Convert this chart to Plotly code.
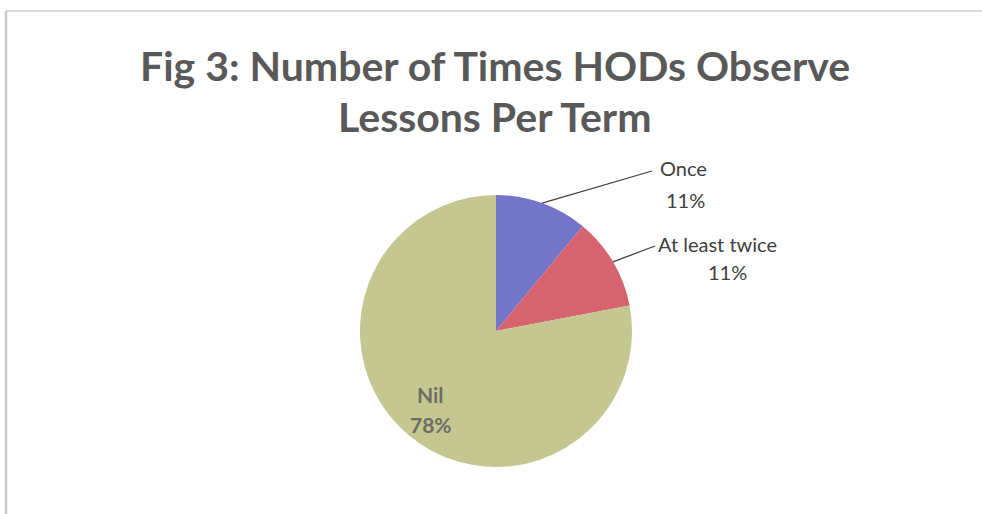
import math
import plotly.graph_objects as go

# Survey results: how often HODs observe lessons each term
categories = ["Once", "At least twice", "Nil"]
shares = [11, 11, 78]
colors = ["#7474C9", "#D6646E", "#C4C78F"]

W, H = 982, 514
CX, CY, R = 496, 331, 136          # pie centre and radius in pixels

fig = go.Figure(go.Pie(
    labels=categories,
    values=shares,
    sort=False,
    direction="clockwise",
    rotation=0,
    marker=dict(colors=colors, line=dict(width=0)),
    textinfo="none",
    hoverinfo="label+percent",
    domain=dict(x=[(CX - R) / W, (CX + R) / W],
                y=[1 - (CY + R) / H, 1 - (CY - R) / H]),
    showlegend=False,
))


def px_to_paper(x, y):
    return x / W, 1 - y / H


def slice_point(idx, frac):
    """Point at radius fraction `frac` along the middle angle of slice idx."""
    total = sum(shares)
    start = sum(shares[:idx]) / total
    mid = (start + shares[idx] / total / 2) * 2 * math.pi
    return CX + frac * R * math.sin(mid), CY - frac * R * math.cos(mid)


def text_at(px, py, text, font):
    x, y = px_to_paper(px, py)
    return dict(x=x, y=y, xref="paper", yref="paper", showarrow=False,
                xanchor="center", yanchor="middle", text=text, font=font)


label_font = dict(family="Lato", size=20, color="#404040")
shapes = []
annotations = []

# outside labels with leader lines for the two small slices
label_anchor = [(652, 171), (655, 246)]
name_pos = [(683, 168), (717, 244)]
pct_pos = [(685, 200), (727, 272)]
for i in range(2):
    sx, sy = slice_point(i, 1.0)
    ex, ey = label_anchor[i]
    x0, y0 = px_to_paper(sx, sy)
    x1, y1 = px_to_paper(ex, ey)
    shapes.append(dict(type="line", xref="paper", yref="paper",
                       x0=x0, y0=y0, x1=x1, y1=y1,
                       line=dict(color="#404040", width=1.3)))
    annotations.append(text_at(*name_pos[i], categories[i], label_font))
    annotations.append(text_at(*pct_pos[i], f"{shares[i]}%", label_font))

# inside label for the large slice
nx, ny = slice_point(2, 0.75)
nil_font = dict(family="Lato", size=21, color="#6E6E64")
annotations.append(text_at(nx, ny - 15, f"<b>{categories[2]}</b>", nil_font))
annotations.append(text_at(nx, ny + 15, f"<b>{shares[2]}%</b>", nil_font))

# chart title
title_font = dict(family="Lato", size=41, color="#595959")
annotations.append(text_at(495, 65, "<b>Fig 3: Number of Times HODs Observe</b>", title_font))
annotations.append(text_at(495, 117, "<b>Lessons Per Term</b>", title_font))

# thin frame along the top and left edges
shapes.append(dict(type="line", xref="paper", yref="paper",
                   x0=6 / W, y0=1 - 11 / H, x1=1, y1=1 - 11 / H,
                   line=dict(color="#DCDCE0", width=2)))
shapes.append(dict(type="line", xref="paper", yref="paper",
                   x0=6 / W, y0=1 - 11 / H, x1=6 / W, y1=0,
                   line=dict(color="#C8C8CE", width=2.5)))

fig.update_layout(
    width=W, height=H,
    margin=dict(l=0, r=0, t=0, b=0),
    paper_bgcolor="white",
    plot_bgcolor="white",
    shapes=shapes,
    annotations=annotations,
)

fig.write_html("out.html")
